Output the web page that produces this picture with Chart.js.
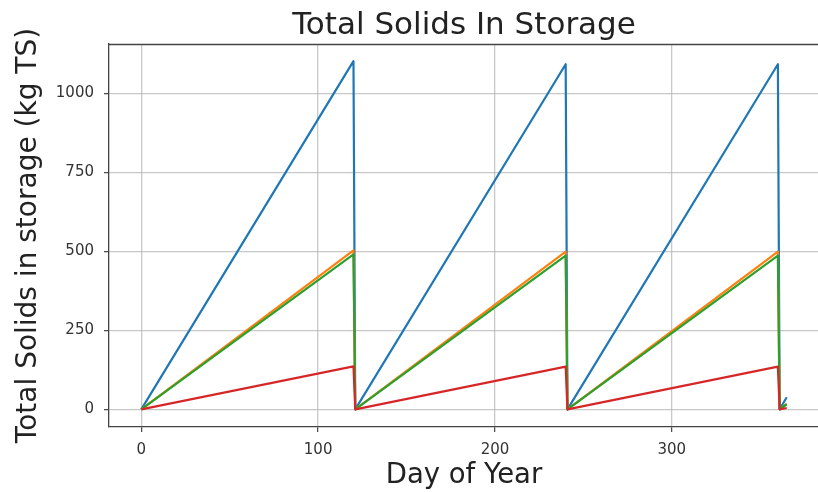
<!DOCTYPE html>
<html>
<head>
<meta charset="utf-8">
<script src="https://cdn.jsdelivr.net/npm/chart.js@4.4.1/dist/chart.umd.min.js"></script>
<style>
  html, body { margin: 0; padding: 0; background: #ffffff; overflow: hidden; }
  #wrap { position: relative; width: 819px; height: 492px; }
</style>
</head>
<body>
<div id="wrap"><canvas id="chart"></canvas></div>
<script>
// Day of year at each vertex of the storage fill / empty cycle
const days = [0, 120, 121, 240, 241, 360, 361, 365];

// Total solids held in storage (kg TS) for each stream
const seriesBlue   = [0, 1102, 0, 1092, 0, 1092, 0, 38];
const seriesOrange = [0, 503, 0, 499, 0, 499, 0, 17];
const seriesGreen  = [0, 490, 0, 486, 0, 486, 0, 16];
const seriesRed    = [0, 136, 0, 135, 0, 135, 0, 4];

// Axis tick values
const xTicks = [0, 100, 200, 300];
const yTicks = [0, 250, 500, 750, 1000];

const FONT = 'DejaVu Sans';

function pts(ys) {
  return days.map((d, i) => ({ x: d, y: ys[i] }));
}

function line(ys, color, order) {
  return {
    data: pts(ys),
    borderColor: color,
    backgroundColor: color,
    borderWidth: 2.2,
    pointRadius: 0,
    tension: 0,
    fill: false,
    borderJoinStyle: 'round',
    order: order
  };
}

// Top spine (left and bottom come from the scale borders)
const topSpine = {
  id: 'topSpine',
  afterDraw(chart) {
    const { ctx, chartArea } = chart;
    ctx.save();
    ctx.strokeStyle = '#444';
    ctx.lineWidth = 1.3;
    ctx.beginPath();
    ctx.moveTo(chartArea.left, chartArea.top + 0.5);
    ctx.lineTo(chartArea.right, chartArea.top + 0.5);
    ctx.stroke();
    ctx.restore();
  }
};

const gridStyle = {
  color: 'rgba(176,176,176,0.7)',
  lineWidth: 1.3,
  tickColor: '#444',
  tickLength: 5,
  tickWidth: 1.2
};

new Chart(document.getElementById('chart'), {
  type: 'line',
  data: {
    datasets: [
      line(seriesBlue, '#1f77b4', 4),
      line(seriesOrange, '#ff7f0e', 3),
      line(seriesGreen, '#2ca02c', 2),
      line(seriesRed, '#d62728', 1)
    ]
  },
  options: {
    responsive: true,
    maintainAspectRatio: false,
    animation: false,
    layout: { padding: 0 },
    plugins: {
      legend: { display: false },
      tooltip: { enabled: false },
      title: { display: false }
    },
    scales: {
      x: {
        type: 'linear',
        min: -18.25,
        max: 383.25,
        afterFit(scale) { scale.height = 65; },
        afterBuildTicks(scale) { scale.ticks = xTicks.map(v => ({ value: v })); },
        ticks: {
          color: '#333',
          padding: 9,
          maxRotation: 0,
          font: { family: FONT, size: 15 },
          callback: v => String(v)
        },
        grid: gridStyle,
        border: { display: true, color: '#444', width: 1.3 },
        title: {
          display: true,
          text: 'Day of Year',
          color: '#222',
          font: { family: FONT, size: 27.5, lineHeight: 1.2 },
          padding: { top: 0, bottom: 0 }
        }
      },
      // Top axis carries the chart title so it centres over the plot area
      top: {
        type: 'linear',
        position: 'top',
        min: -18.25,
        max: 383.25,
        afterFit(scale) { scale.height = 44; },
        ticks: { display: false },
        grid: { display: false, drawTicks: false },
        border: { display: false },
        title: {
          display: true,
          text: 'Total Solids In Storage',
          color: '#222',
          font: { family: FONT, size: 31, lineHeight: 1.2 },
          padding: { top: 7.4, bottom: 0 }
        }
      },
      y: {
        type: 'linear',
        min: -56,
        max: 1156,
        afterFit(scale) { scale.width = 109; },
        afterBuildTicks(scale) { scale.ticks = yTicks.map(v => ({ value: v })); },
        ticks: {
          color: '#333',
          padding: 10,
          font: { family: FONT, size: 15 },
          callback: v => String(v)
        },
        grid: gridStyle,
        border: { display: true, color: '#444', width: 1.3 },
        title: {
          display: true,
          text: 'Total Solids in storage (kg TS)',
          color: '#222',
          font: { family: FONT, size: 28, lineHeight: 1.2 },
          padding: { top: 12, bottom: 0 }
        }
      }
    }
  },
  plugins: [topSpine]
});
</script>
</body>
</html>
